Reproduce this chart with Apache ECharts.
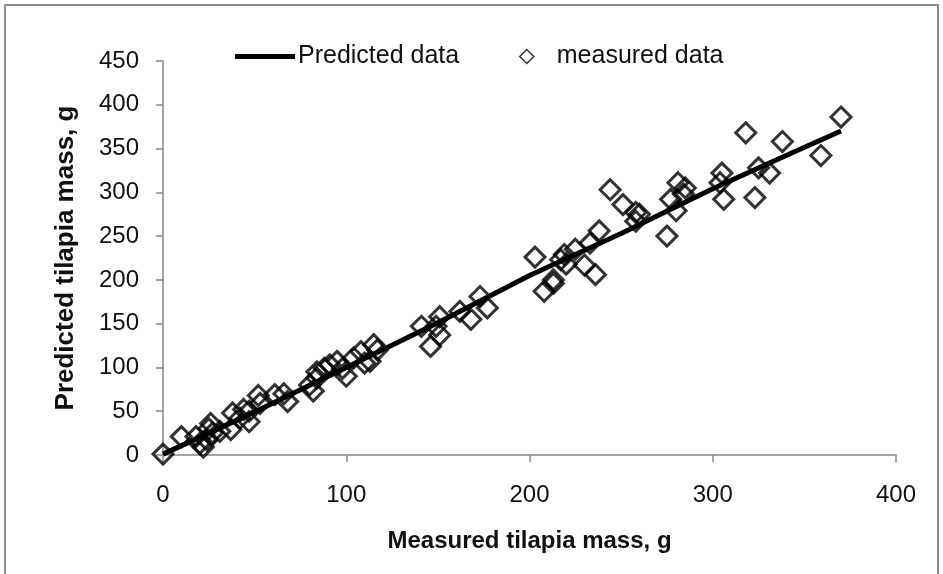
<!DOCTYPE html>
<html>
<head>
<meta charset="utf-8">
<script src="https://cdn.jsdelivr.net/npm/echarts@6/dist/echarts.min.js"></script>
<style>
html,body{margin:0;padding:0;background:#fff;}
#chart{width:943px;height:574px;}
</style>
</head>
<body>
<div id="chart"></div>
<script>
// Measured data (x = measured mass, y = predicted mass)
const measuredX = [0,10,18,20,22,24,26,27,31,25,37,38,42,44,47,47,52,53,61,66,68,80,82,84,84,88,91,95,98,100,104,108,113,115,117,110,141,146,149,151,151,162,168,173,177,203,208,213,213,217,219,220,225,230,233,236,238,244,251,258,258,260,275,277,280,281,284,285,304,305,306,318,323,325,331,338,359,370];
const measuredY = [1,21,21,13,9,17,36,25,27,30,29,48,42,52,50,38,68,59,69,70,61,80,73,95,88,99,103,107,99,90,111,118,107,126,120,105,147,124,147,137,158,164,155,181,168,226,187,196,200,223,229,218,235,217,242,206,256,303,286,277,267,275,250,292,279,311,298,305,311,322,292,368,294,328,322,358,342,386];
// Predicted data line
const lineX = [0,25,50,100,150,200,250,300,340,370];
const lineY = [1,25,49,100,151,205,253,304,342,370];
const xTicks = [0,100,200,300,400];
const yTicks = [0,50,100,150,200,250,300,350,400,450];

const chart = echarts.init(document.getElementById('chart'), null, {renderer:'canvas'});
const FONT = "'Liberation Sans', Arial, sans-serif";
const axisColor = '#868686';
chart.setOption({
  animation:false,
  backgroundColor:'#fff',
  textStyle:{fontFamily:FONT},
  graphic:[{type:'rect', shape:{x:5,y:5,width:933,height:580}, style:{fill:'none', stroke:'#8c8c8c', lineWidth:2}}],
  legend:[{
    top:39, left:230,
    itemWidth:60, itemHeight:5, icon:'rect',
    data:[{name:'Predicted data', icon:'rect'}],
    textStyle:{fontSize:25, color:'#111', fontFamily:FONT, padding:[0,0,0,-2]}
  },{
    top:39, left:514,
    itemWidth:14, itemHeight:14, itemGap:10,
    data:[{name:'measured data', icon:'diamond', itemStyle:{borderWidth:1.5, color:'rgba(0,0,0,0)', borderColor:'#000'}}],
    textStyle:{fontSize:25, color:'#111', fontFamily:FONT, padding:[0,0,0,18]}
  }],
  grid:{left:163, right:47, top:61, bottom:119},
  xAxis:{
    type:'value', min:xTicks[0], max:xTicks[xTicks.length-1], interval:100,
    name:'Measured tilapia mass, g', nameLocation:'middle', nameGap:74,
    nameTextStyle:{fontSize:24, fontWeight:'bold', color:'#111', fontFamily:FONT},
    axisLine:{show:true, onZero:false, lineStyle:{color:axisColor, width:1.5}},
    axisTick:{show:true, inside:false, length:7, lineStyle:{color:axisColor, width:1.5}},
    axisLabel:{fontSize:24, color:'#111', margin:28, fontFamily:FONT},
    splitLine:{show:false}
  },
  yAxis:{
    type:'value', min:yTicks[0], max:yTicks[yTicks.length-1], interval:50,
    name:'Predicted tilapia mass, g', nameLocation:'middle', nameGap:84, nameRotate:90,
    nameTextStyle:{fontSize:26, fontWeight:'bold', color:'#111', fontFamily:FONT},
    axisLine:{show:true, onZero:false, lineStyle:{color:axisColor, width:1.5}},
    axisTick:{show:true, inside:false, length:7, lineStyle:{color:axisColor, width:1.5}},
    axisLabel:{fontSize:24, color:'#111', margin:24, fontFamily:FONT},
    splitLine:{show:false}
  },
  series:[
    {
      name:'measured data', type:'scatter',
      symbol:'diamond', symbolSize:20,
      itemStyle:{color:'rgba(0,0,0,0)', borderColor:'#000', borderWidth:3},
      data: measuredX.map((x,i)=>[x, measuredY[i]]),
      z:2
    },
    {
      name:'Predicted data', type:'line',
      symbol:'none', showSymbol:false, smooth:false,
      lineStyle:{color:'#000', width:5},
      itemStyle:{color:'#000'},
      data: lineX.map((x,i)=>[x, lineY[i]]),
      z:3
    }
  ]
});
</script>
</body>
</html>
